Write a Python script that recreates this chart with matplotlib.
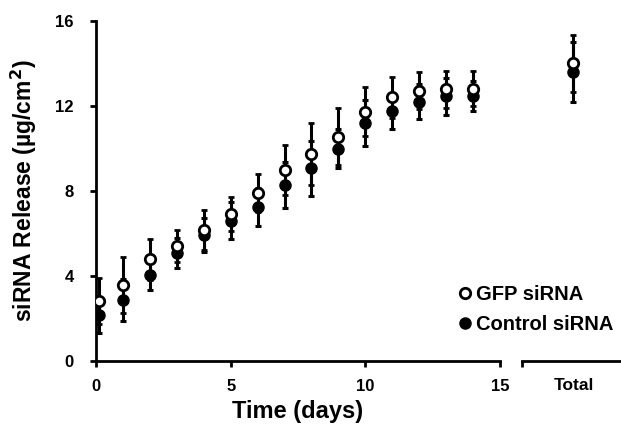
import matplotlib
matplotlib.use('Agg')
import matplotlib.pyplot as plt
from matplotlib.lines import Line2D

plt.rcParams['font.family'] = ['Liberation Sans', 'DejaVu Sans']
plt.rcParams['font.weight'] = 'bold'

# days (first sample just after t=0)
days = [0.1, 1, 2, 3, 4, 5, 6, 7, 8, 9, 10, 11, 12, 13, 14]

gfp = [2.82, 3.58, 4.78, 5.41, 6.16, 6.90, 7.89, 8.99, 9.74, 10.56, 11.73, 12.40, 12.72, 12.78, 12.82]
gfp_err = [1.1, 1.3, 0.95, 0.75, 0.95, 0.8, 0.9, 1.17, 1.44, 1.36, 1.15, 0.98, 0.86, 0.88, 0.84]

ctrl = [2.16, 2.87, 4.05, 5.07, 5.93, 6.59, 7.23, 8.28, 9.06, 9.98, 11.18, 11.76, 12.20, 12.45, 12.47]
ctrl_err = [0.85, 1.0, 0.7, 0.7, 0.8, 0.87, 0.9, 1.1, 1.3, 0.92, 1.08, 0.82, 0.82, 0.87, 0.71]

total_gfp = 14.0
total_gfp_err = 1.34
total_ctrl = 13.6
total_ctrl_err = 1.43

fig = plt.figure(figsize=(6.21, 4.36), dpi=100)

ax = fig.add_axes([96/621, 75/436, 404/621, 340/436])
ax2 = fig.add_axes([522/621, 75/436, 99/621, 340/436], sharey=ax)
ax2.patch.set_visible(False)

msize = 7.5
for a, xs, g, ge, c, ce in [(ax, days, gfp, gfp_err, ctrl, ctrl_err),
                            (ax2, [0.52], [total_gfp], [total_gfp_err], [total_ctrl], [total_ctrl_err])]:
    a.errorbar(xs, c, yerr=ce, fmt='o', color='black', mfc='black', mec='black',
               ms=msize + 0.5, elinewidth=2.2, capsize=2.5, capthick=2.2, zorder=3)
    a.errorbar(xs, g, yerr=ge, fmt='o', color='black', mfc='white', mec='black',
               mew=2, ms=msize, elinewidth=2.2, capsize=2.5, capthick=2.2, zorder=4)

# main axis
ax.set_xlim(0, 15)
ax.set_ylim(0, 16)
ax.set_yticks([0, 4, 8, 12, 16])
ax.set_xticks([0, 5, 10, 15])
for s in ['top', 'right']:
    ax.spines[s].set_visible(False)
for s in ['left', 'bottom']:
    ax.spines[s].set_linewidth(2)
ax.tick_params(width=2, length=4, labelsize=12, direction='out')
ax.tick_params(axis='x', pad=9)
ax.tick_params(axis='y', pad=12)
for lab in ax.get_xticklabels() + ax.get_yticklabels():
    lab.set_fontweight('bold')
ax.set_xlabel('Time (days)', fontsize=17, fontweight='bold', labelpad=4)
ax.set_ylabel('siRNA Release (\u00b5g/cm$^\\mathbf{2}$)', fontsize=16.5, fontweight='bold', labelpad=12)

# total axis
ax2.set_xlim(0, 1)
for s in ['top', 'right', 'left']:
    ax2.spines[s].set_visible(False)
ax2.spines['bottom'].set_linewidth(2)
ax2.tick_params(axis='y', left=False, labelleft=False)
ax2.set_xticks([0])
ax2.set_xticklabels([''])
ax2.tick_params(axis='x', width=2, length=4)
ax2.text(0.52, -0.05, 'Total', transform=ax2.transAxes, ha='center', va='top',
         fontsize=12.5, fontweight='bold')

# legend
handles = [Line2D([], [], ls='none', marker='o', mfc='white', mec='black', mew=2, ms=msize),
           Line2D([], [], ls='none', marker='o', mfc='black', mec='black', ms=msize + 0.5)]
fig.legend(handles, ['GFP siRNA', 'Control siRNA'], loc='upper left',
           bbox_to_anchor=(449/621, 1 - 277/436), frameon=False, handletextpad=0.15,
           handlelength=0.8, labelspacing=0.55, borderaxespad=0,
           prop={'size': 14.5, 'weight': 'bold'})

fig.savefig('out.png', dpi=100)
